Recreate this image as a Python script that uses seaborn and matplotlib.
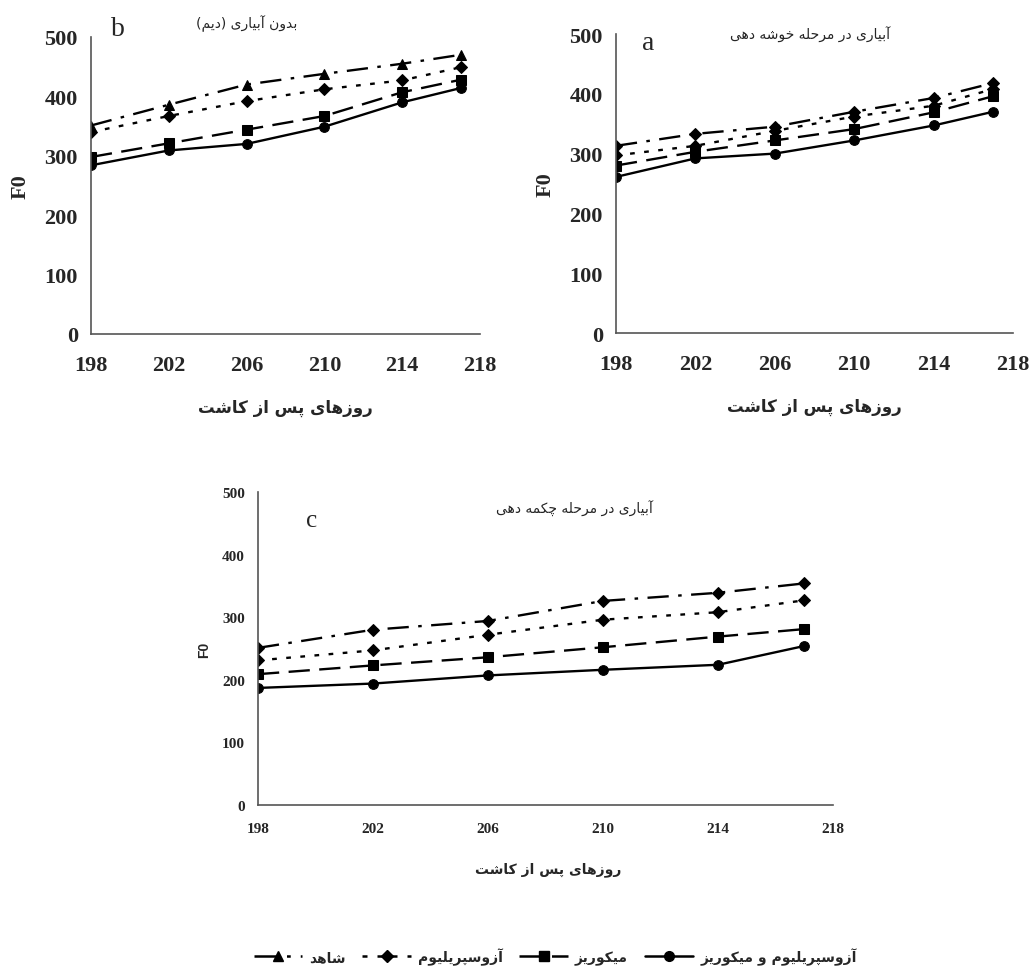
import seaborn as sns
import matplotlib.pyplot as plt
import pandas as pd
from matplotlib.lines import Line2D

# Dữ liệu
days = [198, 202, 206, 210, 214, 217]
series_names = ["شاهد", "آزوسپریلیوم", "میکوریز", "آزوسپریلیوم و میکوریز"]

b_control = [351, 386, 420, 438, 455, 470]
b_azo = [340, 367, 392, 412, 427, 449]
b_myc = [298, 321, 344, 367, 407, 428]
b_both = [284, 309, 320, 349, 390, 414]

a_control = [313, 333, 345, 370, 393, 418]
a_azo = [297, 313, 338, 362, 380, 408]
a_myc = [280, 303, 322, 341, 369, 396]
a_both = [261, 292, 300, 322, 347, 370]

c_control = [251, 280, 294, 326, 339, 354]
c_azo = [231, 247, 272, 296, 308, 327]
c_myc = [209, 223, 236, 252, 269, 281]
c_both = [187, 194, 207, 216, 224, 254]

x_ticks = [198, 202, 206, 210, 214, 218]
y_ticks = [0, 100, 200, 300, 400, 500]

title_b = "بدون آبیاری (دیم)"
title_a = "آبیاری در مرحله خوشه دهی"
title_c = "آبیاری در مرحله چکمه دهی"
x_title = "روزهای پس از کاشت"

# matplotlib không nối chữ Ả Rập -> tự chuyển sang dạng trình bày
FORMS = {
    'ا': ('\uFE8D', '\uFE8E', None, None),
    'آ': ('\uFE81', '\uFE82', None, None),
    'ب': ('\uFE8F', '\uFE90', '\uFE91', '\uFE92'),
    'پ': ('\uFB56', '\uFB57', '\uFB58', '\uFB59'),
    'ت': ('\uFE95', '\uFE96', '\uFE97', '\uFE98'),
    'چ': ('\uFB7A', '\uFB7B', '\uFB7C', '\uFB7D'),
    'ح': ('\uFEA1', '\uFEA2', '\uFEA3', '\uFEA4'),
    'خ': ('\uFEA5', '\uFEA6', '\uFEA7', '\uFEA8'),
    'د': ('\uFEA9', '\uFEAA', None, None),
    'ر': ('\uFEAD', '\uFEAE', None, None),
    'ز': ('\uFEAF', '\uFEB0', None, None),
    'س': ('\uFEB1', '\uFEB2', '\uFEB3', '\uFEB4'),
    'ش': ('\uFEB5', '\uFEB6', '\uFEB7', '\uFEB8'),
    'ک': ('\uFB8E', '\uFB8F', '\uFB90', '\uFB91'),
    'ل': ('\uFEDD', '\uFEDE', '\uFEDF', '\uFEE0'),
    'م': ('\uFEE1', '\uFEE2', '\uFEE3', '\uFEE4'),
    'ن': ('\uFEE5', '\uFEE6', '\uFEE7', '\uFEE8'),
    'ه': ('\uFEE9', '\uFEEA', '\uFEEB', '\uFEEC'),
    'و': ('\uFEED', '\uFEEE', None, None),
    'ی': ('\uFBFC', '\uFBFD', '\uFBFE', '\uFBFF'),
}


def fa(text):
    out = []
    for i, ch in enumerate(text):
        if ch not in FORMS:
            out.append(ch)
            continue
        prev = text[i - 1] if i > 0 else ''
        nxt = text[i + 1] if i < len(text) - 1 else ''
        jp = prev in FORMS and FORMS[prev][2] is not None
        jn = FORMS[ch][2] is not None and nxt in FORMS
        iso, fin, ini, med = FORMS[ch]
        if jp and jn:
            out.append(med)
        elif jp:
            out.append(fin)
        elif jn:
            out.append(ini)
        else:
            out.append(iso)
    return ''.join(out)[::-1].translate(str.maketrans('()', ')('))


sns.set_style('white')
plt.rcParams['font.family'] = ['Liberation Serif', 'DejaVu Sans']

dashes = {
    series_names[0]: (9, 4, 1.5, 4),
    series_names[1]: (2, 4),
    series_names[2]: (9, 4),
    series_names[3]: "",
}


def make_df(vals):
    rows = []
    for name, v in zip(series_names, vals):
        for d, y in zip(days, v):
            rows.append({'day': d, 'F0': y, 'series': name})
    return pd.DataFrame(rows)


def draw(ax, vals, top_marker, big=True):
    df = make_df(vals)
    markers = {series_names[0]: top_marker, series_names[1]: 'D',
               series_names[2]: 's', series_names[3]: 'o'}
    sns.lineplot(data=df, x='day', y='F0', style='series', markers=markers,
                 dashes=dashes, color='black', linewidth=1.7, markersize=7,
                 markeredgecolor='black', legend=False, ax=ax)
    # hình thoi nhỏ hơn một chút
    for line in ax.get_lines():
        if line.get_marker() == 'D':
            line.set_markersize(6)
    ax.set_xlim(198, 218)
    ax.set_ylim(0, 500)
    ax.set_xticks(x_ticks)
    ax.set_yticks(y_ticks)
    for s in ['top', 'right']:
        ax.spines[s].set_visible(False)
    for s in ['left', 'bottom']:
        ax.spines[s].set_color('#555555')
        ax.spines[s].set_linewidth(1.2)
    fs = 16 if big else 11
    ax.tick_params(axis='both', direction='out', length=6, width=1.2,
                   color='#555555', labelsize=fs)
    ax.tick_params(axis='x', pad=9 if big else 6)
    for lab in ax.get_xticklabels() + ax.get_yticklabels():
        lab.set_fontweight('bold')
    ax.set_xlabel('')
    ax.set_ylabel('F0', fontsize=16 if big else 10, fontweight='bold',
                  family=['Liberation Serif'] if big else ['Liberation Sans'],
                  labelpad=10 if big else 8)


W, H = 1031, 979
fig = plt.figure(figsize=(W / 100, H / 100), dpi=100)


def box(l, r, t, b):
    return [l / W, 1 - b / H, (r - l) / W, (b - t) / H]


ax_b = fig.add_axes(box(91, 480, 38, 335))
ax_a = fig.add_axes(box(616, 1013, 35, 334))
ax_c = fig.add_axes(box(258, 833, 493, 806))

draw(ax_b, [b_control, b_azo, b_myc, b_both], '^')
draw(ax_a, [a_control, a_azo, a_myc, a_both], 'D')
draw(ax_c, [c_control, c_azo, c_myc, c_both], 'D', big=False)

ax_b.text(0.07, 1.03, 'b', transform=ax_b.transAxes, fontsize=20,
          ha='center', va='center')
ax_b.text(0.40, 1.05, fa(title_b), transform=ax_b.transAxes, fontsize=10,
          family='DejaVu Sans', ha='center', va='center')
ax_a.text(0.08, 0.97, 'a', transform=ax_a.transAxes, fontsize=20,
          ha='center', va='center')
ax_a.text(0.49, 1.0, fa(title_a), transform=ax_a.transAxes, fontsize=10,
          family='DejaVu Sans', ha='center', va='center')
ax_c.text(0.094, 0.91, 'c', transform=ax_c.transAxes, fontsize=18,
          ha='center', va='center')
ax_c.text(0.55, 0.95, fa(title_c), transform=ax_c.transAxes, fontsize=10,
          family='DejaVu Sans', ha='center', va='center')

fig.text(285 / W, 1 - 408 / H, fa(x_title), fontsize=12, fontweight='bold',
         family='DejaVu Sans', ha='center', va='center')
fig.text(814 / W, 1 - 407 / H, fa(x_title), fontsize=12, fontweight='bold',
         family='DejaVu Sans', ha='center', va='center')
fig.text(548 / W, 1 - 870 / H, fa(x_title), fontsize=10, fontweight='bold',
         family='DejaVu Sans', ha='center', va='center')

# chú thích ở dưới, thứ tự phải sang trái
leg_markers = ['^', 'D', 's', 'o']
handles = [Line2D([0], [0], color='black', lw=1.8, marker=m,
                  markersize=6 if m == 'D' else 7,
                  dashes=dashes[n] if dashes[n] else (None, None))
           for n, m in zip(series_names, leg_markers)]
handles[3].set_linestyle('-')
leg = fig.legend(handles, [fa(n) for n in series_names], ncol=4,
                 loc='center', bbox_to_anchor=(555 / W, 1 - 957 / H),
                 frameon=False, handlelength=3.5, columnspacing=1.2,
                 handletextpad=0.5, prop={'family': 'DejaVu Sans',
                                          'weight': 'bold', 'size': 10})

fig.savefig('out.png', dpi=100)
